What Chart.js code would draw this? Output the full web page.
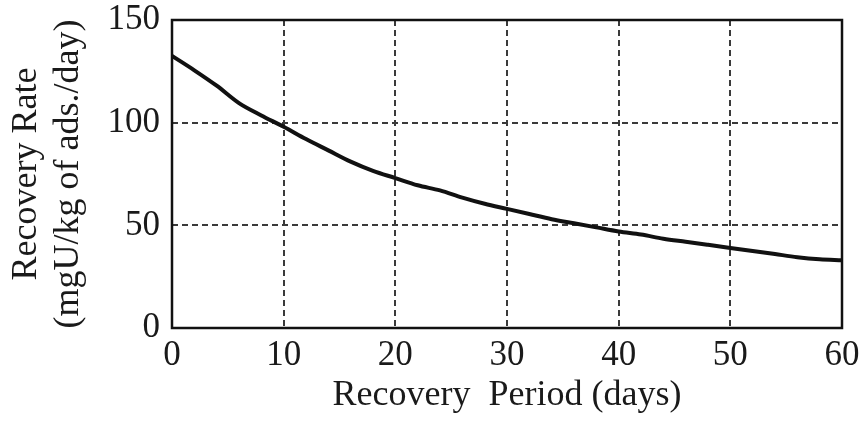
<!DOCTYPE html>
<html>
<head>
<meta charset="utf-8">
<script src="https://cdn.jsdelivr.net/npm/chart.js@4"></script>
<style>
  html, body { margin: 0; padding: 0; background: #fff; }
  #wrap { width: 865px; height: 421px; }
</style>
</head>
<body>
<div id="wrap"><canvas id="rateChart" width="865" height="421"></canvas></div>
<script>
// recovery period (days) and recovery rate
const days = [0, 2, 4, 6, 8, 10, 12, 14, 16, 18, 20, 22, 24, 26, 28, 30,
              32, 34, 36, 38, 40, 42, 44, 46, 48, 50, 52, 54, 56, 58, 60];
const rates = [132.5, 125.5, 118, 109.5, 103.5, 98, 92, 86.5, 81, 76.5, 73, 69.5, 67, 63.5, 60.5, 58,
               55.5, 53, 51, 49, 47, 45.5, 43.5, 42, 40.5, 39, 37.5, 36, 34.5, 33.5, 33];
const xTicks = [0, 10, 20, 30, 40, 50, 60];
const yTicks = [0, 50, 100, 150];
const xTitle = 'Recovery  Period (days)';
const yTitle = ['Recovery Rate', '(mgU/kg of ads./day)'];

const serif = 'Liberation Serif';
const ink = '#1a1a1a';

// box round the plot area (Chart.js has no top/right border on its own)
const frame = {
  id: 'frame',
  afterDatasetsDraw(chart) {
    const { ctx, chartArea: a } = chart;
    ctx.save();
    ctx.strokeStyle = '#111';
    ctx.lineWidth = 2.5;
    ctx.setLineDash([]);
    ctx.strokeRect(a.left, a.top, a.right - a.left, a.bottom - a.top);
    ctx.restore();
  }
};

const gridOpts = {
  color: '#3a3a3a',
  lineWidth: 2,
  drawTicks: false
};

new Chart(document.getElementById('rateChart'), {
  type: 'line',
  data: {
    datasets: [{
      data: days.map((d, i) => ({ x: d, y: rates[i] })),
      borderColor: '#111',
      borderWidth: 4,
      pointRadius: 0,
      cubicInterpolationMode: 'monotone',
      fill: false
    }]
  },
  options: {
    responsive: false,
    animation: false,
    layout: { padding: { top: 20, right: 23, left: 0, bottom: 0 } },
    plugins: { legend: { display: false }, tooltip: { enabled: false } },
    scales: {
      x: {
        type: 'linear',
        min: 0,
        max: 60,
        afterBuildTicks: s => { s.ticks = xTicks.map(v => ({ value: v })); },
        afterFit: s => { s.height = 93; s.paddingLeft = 0; s.paddingRight = 0; },
        border: { display: false, dash: [6, 4] },
        grid: gridOpts,
        ticks: { color: ink, padding: 7, maxRotation: 0, font: { family: serif, size: 35 } },
        title: {
          display: true, text: xTitle, color: ink,
          padding: { top: 0, bottom: 4 },
          font: { family: serif, size: 36, lineHeight: 1.2 }
        }
      },
      y: {
        min: 0,
        max: 150,
        afterBuildTicks: s => { s.ticks = yTicks.map(v => ({ value: v })); },
        afterFit: s => { s.width = 172; s.paddingTop = 0; s.paddingBottom = 0; },
        border: { display: false, dash: [6, 4] },
        grid: gridOpts,
        ticks: { color: ink, padding: 12, font: { family: serif, size: 35 } },
        title: {
          display: true, text: yTitle, color: ink,
          padding: { top: 5, bottom: 0 },
          font: { family: serif, size: 36, lineHeight: 1.17 }
        }
      }
    }
  },
  plugins: [frame]
});
</script>
</body>
</html>
